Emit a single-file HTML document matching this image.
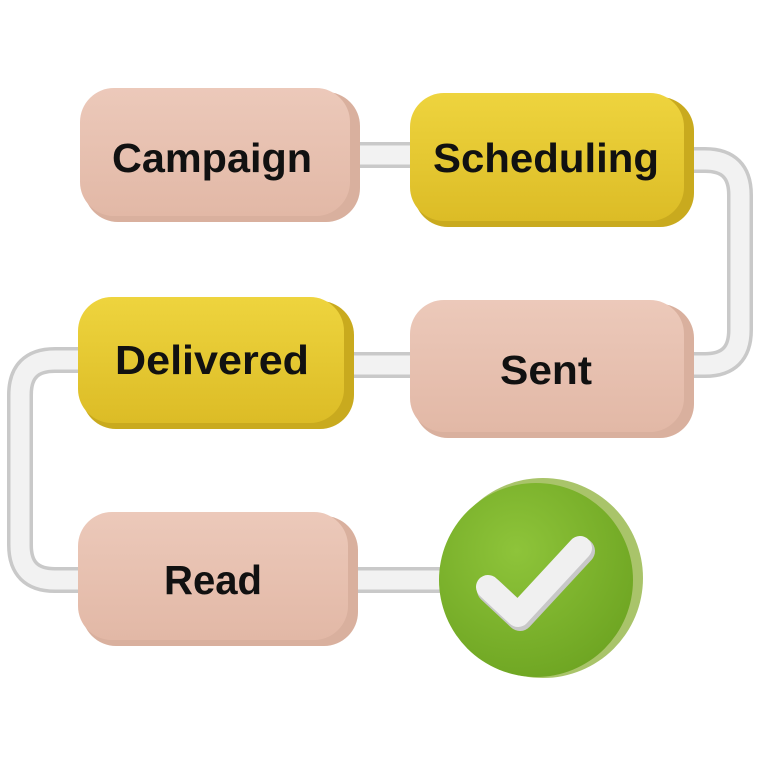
<!DOCTYPE html>
<html><head><style>
html,body{margin:0;padding:0;background:#fff;}
svg{display:block;}
text{font-family:"Liberation Sans",sans-serif;font-weight:bold;font-size:41px;fill:#111;text-anchor:middle;}
</style></head><body>
<svg width="768" height="768" viewBox="0 0 768 768" xmlns="http://www.w3.org/2000/svg">
<defs>
<linearGradient id="pink" x1="0" y1="0" x2="0" y2="1"><stop offset="0" stop-color="#ecc9ba"/><stop offset="1" stop-color="#e2b8a6"/></linearGradient>
<linearGradient id="yel" x1="0" y1="0" x2="0" y2="1"><stop offset="0" stop-color="#eed43e"/><stop offset="1" stop-color="#dcbc26"/></linearGradient>
<radialGradient id="grn" cx="0.4" cy="0.35" r="0.7"><stop offset="0" stop-color="#8ec43a"/><stop offset="1" stop-color="#6ea522"/></radialGradient>
</defs>
<g fill="none" stroke-linecap="round" stroke-linejoin="round">
<path d="M340 155 H420 M680 160 H705 Q740 160 740 195 V330 Q740 365 705 365 H680 M420 365 H340 M90 360 H55 Q20 360 20 395 V545 Q20 580 55 580 H90 M340 580 H450" stroke="#c9c9c9" stroke-width="26"/>
<path d="M340 155 H420 M680 160 H705 Q740 160 740 195 V330 Q740 365 705 365 H680 M420 365 H340 M90 360 H55 Q20 360 20 395 V545 Q20 580 55 580 H90 M340 580 H450" stroke="#f2f2f2" stroke-width="19"/>
</g>
<rect x="84" y="92" width="276" height="130" rx="34" fill="#d9b09e"/>
<rect x="80" y="88" width="270" height="128" rx="34" fill="url(#pink)"/>
<text x="212" y="172" textLength="200" lengthAdjust="spacingAndGlyphs">Campaign</text>
<rect x="414" y="97" width="280" height="130" rx="34" fill="#c9aa1e"/>
<rect x="410" y="93" width="274" height="128" rx="34" fill="url(#yel)"/>
<text x="546" y="172" textLength="226" lengthAdjust="spacingAndGlyphs">Scheduling</text>
<rect x="82" y="301" width="272" height="128" rx="34" fill="#c9aa1e"/>
<rect x="78" y="297" width="266" height="126" rx="34" fill="url(#yel)"/>
<text x="212" y="374" textLength="194" lengthAdjust="spacingAndGlyphs">Delivered</text>
<rect x="414" y="304" width="280" height="134" rx="34" fill="#d9b09e"/>
<rect x="410" y="300" width="274" height="132" rx="34" fill="url(#pink)"/>
<text x="546" y="384" textLength="92" lengthAdjust="spacingAndGlyphs">Sent</text>
<rect x="82" y="516" width="276" height="130" rx="34" fill="#d9b09e"/>
<rect x="78" y="512" width="270" height="128" rx="34" fill="url(#pink)"/>
<text x="213" y="594" textLength="98" lengthAdjust="spacingAndGlyphs">Read</text>
<circle cx="543" cy="578" r="100" fill="#a9c46a"/>
<circle cx="536" cy="580" r="97" fill="url(#grn)"/>
<path d="M488 587 L518 615 L580 548" fill="none" stroke="#c8c8c8" stroke-width="26" stroke-linecap="round" stroke-linejoin="round" transform="translate(2,3)"/>
<path d="M488 587 L518 615 L580 548" fill="none" stroke="#f0f0f0" stroke-width="24" stroke-linecap="round" stroke-linejoin="round"/>
</svg>
</body></html>
